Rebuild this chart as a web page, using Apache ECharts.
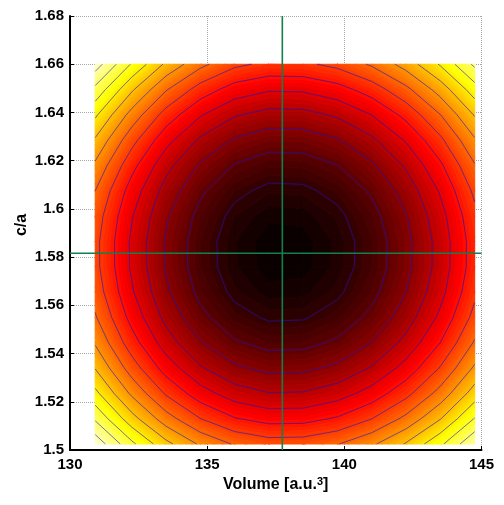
<!DOCTYPE html>
<html>
<head>
<meta charset="utf-8">
<script src="https://cdn.jsdelivr.net/npm/echarts@6/dist/echarts.min.js"></script>
<style>
html,body{margin:0;padding:0;background:#fff;}
#chart{width:504px;height:505px;}
</style>
</head>
<body>
<div id="chart"></div>
<script>
// Grid coordinates of the sampled surface
const volumes = [130.92, 132.25, 133.5, 134.75, 136, 137.25, 138.5, 139.75, 141, 142.25, 143.5, 144.75];
const caRatios = [1.5025, 1.5130, 1.5235, 1.5340, 1.5445, 1.5550, 1.5655, 1.5760, 1.5865, 1.5970, 1.6075, 1.6180, 1.6285, 1.6390, 1.6495, 1.6600];
// Surface values (rows = c/a from bottom to top, columns = volume)
const energyGrid = [
  [14.68, 12.23, 10.29, 8.85, 7.90, 7.46, 7.50, 7.95, 8.82, 10.10, 11.79, 13.89],
  [12.84, 10.39, 8.45, 7.01, 6.06, 5.62, 5.66, 6.11, 6.98, 8.26, 9.95, 12.05],
  [11.26, 8.81, 6.87, 5.43, 4.48, 4.04, 4.08, 4.53, 5.40, 6.68, 8.37, 10.47],
  [9.95, 7.50, 5.56, 4.12, 3.17, 2.73, 2.77, 3.22, 4.09, 5.37, 7.06, 9.16],
  [8.89, 6.44, 4.50, 3.06, 2.11, 1.67, 1.71, 2.16, 3.03, 4.31, 6.00, 8.10],
  [8.10, 5.65, 3.71, 2.27, 1.32, 0.88, 0.92, 1.37, 2.24, 3.52, 5.21, 7.31],
  [7.57, 5.12, 3.18, 1.74, 0.79, 0.35, 0.39, 0.84, 1.71, 2.99, 4.68, 6.78],
  [7.30, 4.85, 2.91, 1.47, 0.52, 0.08, 0.12, 0.57, 1.44, 2.72, 4.41, 6.51],
  [7.29, 4.84, 2.90, 1.46, 0.51, 0.07, 0.11, 0.56, 1.43, 2.71, 4.40, 6.50],
  [7.52, 5.07, 3.13, 1.69, 0.74, 0.30, 0.34, 0.79, 1.66, 2.94, 4.63, 6.73],
  [8.00, 5.55, 3.61, 2.17, 1.22, 0.78, 0.82, 1.27, 2.14, 3.42, 5.11, 7.21],
  [8.81, 6.32, 4.32, 2.88, 1.93, 1.49, 1.53, 1.98, 2.85, 4.13, 5.82, 7.92],
  [9.87, 7.34, 5.34, 3.84, 2.89, 2.45, 2.49, 2.94, 3.81, 5.09, 6.78, 8.88],
  [11.17, 8.62, 6.58, 5.09, 4.09, 3.65, 3.69, 4.14, 5.01, 6.29, 7.98, 10.08],
  [12.72, 10.15, 8.08, 6.56, 5.54, 5.10, 5.14, 5.59, 6.46, 7.74, 9.43, 11.53],
  [14.50, 11.90, 9.81, 8.27, 7.22, 6.78, 6.82, 7.27, 8.14, 9.42, 11.11, 13.21]
];
const contourLevels = [1, 2, 3, 4, 5, 6, 7, 8, 9, 10, 11, 12, 13, 14];
const colorLimits = [0, 15.5];
const xTicks = [130, 135, 140, 145];
const yTicks = [1.50, 1.52, 1.54, 1.56, 1.58, 1.60, 1.62, 1.64, 1.66, 1.68];
const crossVolume = [137.74];
const crossCa = [1.5816];

const FONT = '"Liberation Sans", Arial, sans-serif';
const nX = volumes.length, nY = caRatios.length;
const zMin = colorLimits[0], zMax = colorLimits[1];
const NC = 64;
const step = (zMax - zMin) / NC;

function hot(k) {
  const r = k < 24 ? (k + 1) / 24 : 1;
  const g = k < 24 ? 0 : (k < 48 ? (k - 23) / 24 : 1);
  const b = k < 48 ? 0 : (k - 47) / 16;
  return 'rgb(' + Math.round(r * 255) + ',' + Math.round(g * 255) + ',' + Math.round(b * 255) + ')';
}
function bandIdx(z) { return Math.max(0, Math.min(NC - 1, Math.floor((z - zMin) / step))); }
function clip(poly, t, keepAbove) {
  const out = [];
  const n = poly.length;
  for (let i = 0; i < n; i++) {
    const a = poly[i], b = poly[(i + 1) % n];
    const ina = keepAbove ? a[2] >= t : a[2] <= t;
    const inb = keepAbove ? b[2] >= t : b[2] <= t;
    if (ina) out.push(a);
    if (ina !== inb) {
      const s = (t - a[2]) / (b[2] - a[2]);
      out.push([a[0] + s * (b[0] - a[0]), a[1] + s * (b[1] - a[1]), t]);
    }
  }
  return out;
}

const cells = [];
for (let j = 0; j < nY - 1; j++) {
  for (let i = 0; i < nX - 1; i++) {
    cells.push([(volumes[i] + volumes[i + 1]) / 2, (caRatios[j] + caRatios[j + 1]) / 2, i, j]);
  }
}

function corners(api) {
  const i = api.value(2), j = api.value(3);
  const P = (ii, jj) => {
    const p = api.coord([volumes[ii], caRatios[jj]]);
    return [p[0], p[1], energyGrid[jj][ii]];
  };
  return [P(i, j), P(i + 1, j), P(i + 1, j + 1), P(i, j + 1)];
}

function renderFill(params, api) {
  const [a, b, c, d] = corners(api);
  const tris = [[a, b, c], [a, c, d]];
  const children = [];
  tris.forEach(tri => {
    const zs = tri.map(p => p[2]);
    const k0 = bandIdx(Math.min.apply(null, zs));
    const k1 = bandIdx(Math.max.apply(null, zs));
    for (let k = k0; k <= k1; k++) {
      let poly = tri;
      if (k > k0) poly = clip(poly, zMin + k * step, true);
      if (k < k1) poly = clip(poly, zMin + (k + 1) * step, false);
      if (poly.length >= 3) {
        const col = hot(k);
        children.push({
          type: 'polygon',
          shape: { points: poly.map(p => [p[0], p[1]]) },
          style: { fill: col, stroke: col, lineWidth: 1.1, lineJoin: 'round' }
        });
      }
    }
  });
  return { type: 'group', children };
}

function renderLines(params, api) {
  const q = corners(api);
  const children = [];
  const edges = [[q[0], q[1]], [q[1], q[2]], [q[2], q[3]], [q[3], q[0]]];
  contourLevels.forEach(L => {
    const pts = [];
    edges.forEach(([p, r]) => {
      if ((p[2] >= L) !== (r[2] >= L)) {
        const s = (L - p[2]) / (r[2] - p[2]);
        pts.push([p[0] + s * (r[0] - p[0]), p[1] + s * (r[1] - p[1])]);
      }
    });
    const segs = [];
    if (pts.length === 2) segs.push([pts[0], pts[1]]);
    else if (pts.length === 4) { segs.push([pts[0], pts[1]]); segs.push([pts[2], pts[3]]); }
    segs.forEach(sg => children.push({
      type: 'polyline',
      shape: { points: sg },
      style: { stroke: 'rgba(20,20,200,0.66)', lineWidth: 0.9, fill: null }
    }));
  });
  return { type: 'group', children };
}

const chart = echarts.init(document.getElementById('chart'));
chart.setOption({
  animation: false,
  backgroundColor: '#fff',
  grid: { left: 70, right: 22.5, top: 16, bottom: 55 },
  xAxis: {
    type: 'value',
    min: xTicks[0], max: xTicks[xTicks.length - 1], interval: xTicks[1] - xTicks[0],
    name: '{a|Volume [a.u.}{s|3}{a|]}',
    nameLocation: 'middle', nameGap: 26, nameMoveOverlap: false,
    nameTextStyle: {
      color: '#000', fontSize: 16, fontWeight: 'bold', fontFamily: FONT,
      rich: {
        a: { color: '#000', fontSize: 16, fontWeight: 'bold', fontFamily: FONT, lineHeight: 18 },
        s: { color: '#000', fontSize: 11, fontWeight: 'bold', fontFamily: FONT, verticalAlign: 'top', lineHeight: 11 }
      }
    },
    axisLine: { onZero: false, lineStyle: { color: '#000', width: 2 } },
    axisTick: { inside: true, length: 4, lineStyle: { color: '#000', width: 1 } },
    axisLabel: { color: '#000', fontSize: 15, fontWeight: 'bold', fontFamily: FONT, margin: 7 },
    splitLine: { show: true, lineStyle: { type: 'dotted', color: '#a8a8a8', width: 1 } }
  },
  yAxis: {
    type: 'value',
    min: yTicks[0], max: yTicks[yTicks.length - 1], interval: 0.02,
    name: 'c/a',
    nameLocation: 'middle', nameGap: 40, nameRotate: 90, nameMoveOverlap: false,
    nameTextStyle: { color: '#000', fontSize: 16, fontWeight: 'bold', fontFamily: FONT, padding: [0, 0, 0, 16] },
    axisLine: { onZero: false, lineStyle: { color: '#000', width: 2 } },
    axisTick: { inside: true, length: 4, lineStyle: { color: '#000', width: 1 } },
    axisLabel: { color: '#000', fontSize: 15, fontWeight: 'bold', fontFamily: FONT, margin: 6 },
    splitLine: { show: true, lineStyle: { type: 'dotted', color: '#a8a8a8', width: 1 } }
  },
  series: [
    {
      type: 'custom', coordinateSystem: 'cartesian2d', silent: true,
      encode: { x: 0, y: 1 }, data: cells, renderItem: renderFill, z: 2
    },
    {
      type: 'custom', coordinateSystem: 'cartesian2d', silent: true,
      encode: { x: 0, y: 1 }, data: cells, renderItem: renderLines, z: 3
    },
    {
      type: 'line', silent: true, symbol: 'none', z: 4,
      data: [[crossVolume[0], yTicks[0]], [crossVolume[0], yTicks[yTicks.length - 1]]],
      lineStyle: { color: '#12804a', width: 1.6 }
    },
    {
      type: 'line', silent: true, symbol: 'none', z: 4,
      data: [[xTicks[0], crossCa[0]], [xTicks[xTicks.length - 1], crossCa[0]]],
      lineStyle: { color: '#12804a', width: 1.6 }
    }
  ]
});
</script>
</body>
</html>
